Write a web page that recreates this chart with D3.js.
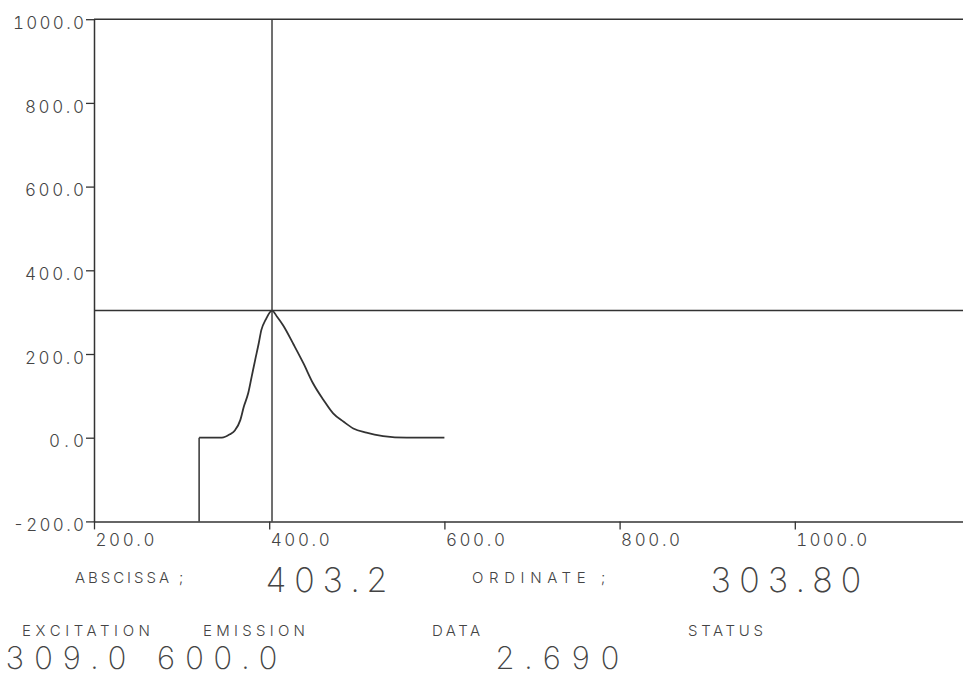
<!DOCTYPE html>
<html>
<head>
<meta charset="utf-8">
<script src="https://cdn.jsdelivr.net/npm/d3@7"></script>
<style>
  html, body { margin: 0; padding: 0; background: #ffffff; }
  svg { display: block; }
  text { fill: #444; }
</style>
</head>
<body>
<svg id="chart" width="963" height="677"></svg>
<script>
// ---- data ----
const xTicks = [200, 400, 600, 800, 1000];
const yTicks = [-200, 0, 200, 400, 600, 800, 1000];
const wavelength = [320, 320, 346, 355, 361, 367, 371, 376, 380, 384, 388, 391, 396, 403.2, 409, 416, 428, 439, 450, 462, 473, 485, 496, 511, 530, 557, 600];
const intensity  = [-200, 0, 0, 8, 18, 42, 74, 106, 146, 186, 225, 257, 282, 303.8, 289, 268, 222, 178, 130, 90, 58, 38, 22, 12, 4, 0, 0];
const cursorX = 403.2;
const cursorY = 303.8;
const readoutLabels = ["ABSCISSA ;", "ORDINATE ;"];
const readoutValues = ["403.2", "303.80"];
const statusLabels = ["EXCITATION", "EMISSION", "DATA", "STATUS"];
const statusValues = ["309.0", "600.0", "2.690"];

// ---- drawing ----
const svg = d3.select("#chart");
const W = 963;
const stroke = "#333";
const thin = "Inter";

const x = d3.scaleLinear().domain([200, 1192]).range([94, 963]);
const y = d3.scaleLinear().domain([-200, 1000]).range([521.4, 19.2]);

const fmt = d => d.toFixed(1);

// top frame line
svg.append("line")
  .attr("x1", x(200)).attr("x2", W)
  .attr("y1", y(1000)).attr("y2", y(1000))
  .attr("stroke", stroke).attr("stroke-width", 1.5);

function styleTickText(sel) {
  sel.attr("font-size", 17)
    .attr("font-family", thin)
    .attr("font-weight", 300)
    .attr("fill", "#444")
    .style("font-variant-numeric", "tabular-nums")
    .attr("textLength", function () { return this.textContent.length * 12 - 1; })
    .attr("lengthAdjust", "spacing");
}

// y axis
const yAxis = svg.append("g")
  .attr("transform", `translate(${x(200)},0)`)
  .call(d3.axisLeft(y).tickValues(yTicks).tickFormat(fmt).tickSize(8).tickSizeOuter(0).tickPadding(2));
yAxis.select(".domain").attr("stroke", stroke).attr("stroke-width", 1.5);
yAxis.selectAll(".tick line").attr("stroke", stroke).attr("stroke-width", 1.3);
yAxis.selectAll(".tick text").call(styleTickText)
  .attr("dy", "0.72em").attr("y", -3);

// x axis
const xAxis = svg.append("g")
  .attr("transform", `translate(0,${y(-200)})`)
  .call(d3.axisBottom(x).tickValues(xTicks).tickFormat(fmt).tickSize(8).tickSizeOuter(0).tickPadding(2));
xAxis.select(".domain").attr("stroke", stroke).attr("stroke-width", 1.5);
xAxis.selectAll(".tick line").attr("stroke", stroke).attr("stroke-width", 1.3);
xAxis.selectAll(".tick text").call(styleTickText)
  .attr("text-anchor", "start")
  .attr("x", 1).attr("y", 12).attr("dy", "0.72em");

// cursor cross-hair
svg.append("line")
  .attr("x1", x(200)).attr("x2", W)
  .attr("y1", y(cursorY)).attr("y2", y(cursorY))
  .attr("stroke", stroke).attr("stroke-width", 1.4);
svg.append("line")
  .attr("x1", x(cursorX)).attr("x2", x(cursorX))
  .attr("y1", y(1000)).attr("y2", y(-200))
  .attr("stroke", stroke).attr("stroke-width", 1.4);

// spectrum: vertical start then smooth curve
const pts = wavelength.map((w, i) => [w, intensity[i]]);
svg.append("path")
  .attr("d", d3.line().x(d => x(d[0])).y(d => y(d[1]))(pts.slice(0, 2)))
  .attr("fill", "none").attr("stroke", stroke).attr("stroke-width", 1.5);
svg.append("path")
  .attr("d", d3.line().x(d => x(d[0])).y(d => y(d[1])).curve(d3.curveMonotoneX)(pts.slice(1)))
  .attr("fill", "none").attr("stroke", stroke).attr("stroke-width", 1.8);

// readouts
function txt(str, left, base, size, width, weight) {
  const t = svg.append("text").attr("x", left).attr("y", base)
    .attr("font-family", thin)
    .attr("font-weight", weight || 300)
    .attr("font-size", size)
    .style("font-variant-numeric", "tabular-nums")
    .text(str);
  if (width) t.attr("textLength", width).attr("lengthAdjust", "spacing");
  return t;
}
txt(readoutLabels[0], 75, 583, 15, 108);
txt(readoutValues[0], 265, 592, 34, 123, 200);
txt(readoutLabels[1], 472, 583, 15, 133);
txt(readoutValues[1], 710, 592, 34, 152, 200);

txt(statusLabels[0], 22, 636, 15, 128);
txt(statusLabels[1], 203, 636, 15, 102);
txt(statusLabels[2], 432, 636, 15, 48);
txt(statusLabels[3], 688, 636, 15, 75);

txt(statusValues[0], 5, 669, 31, 122, 200);
txt(statusValues[1], 156, 669, 31, 122, 200);
txt(statusValues[2], 495, 669, 31, 125, 200);
</script>
</body>
</html>
